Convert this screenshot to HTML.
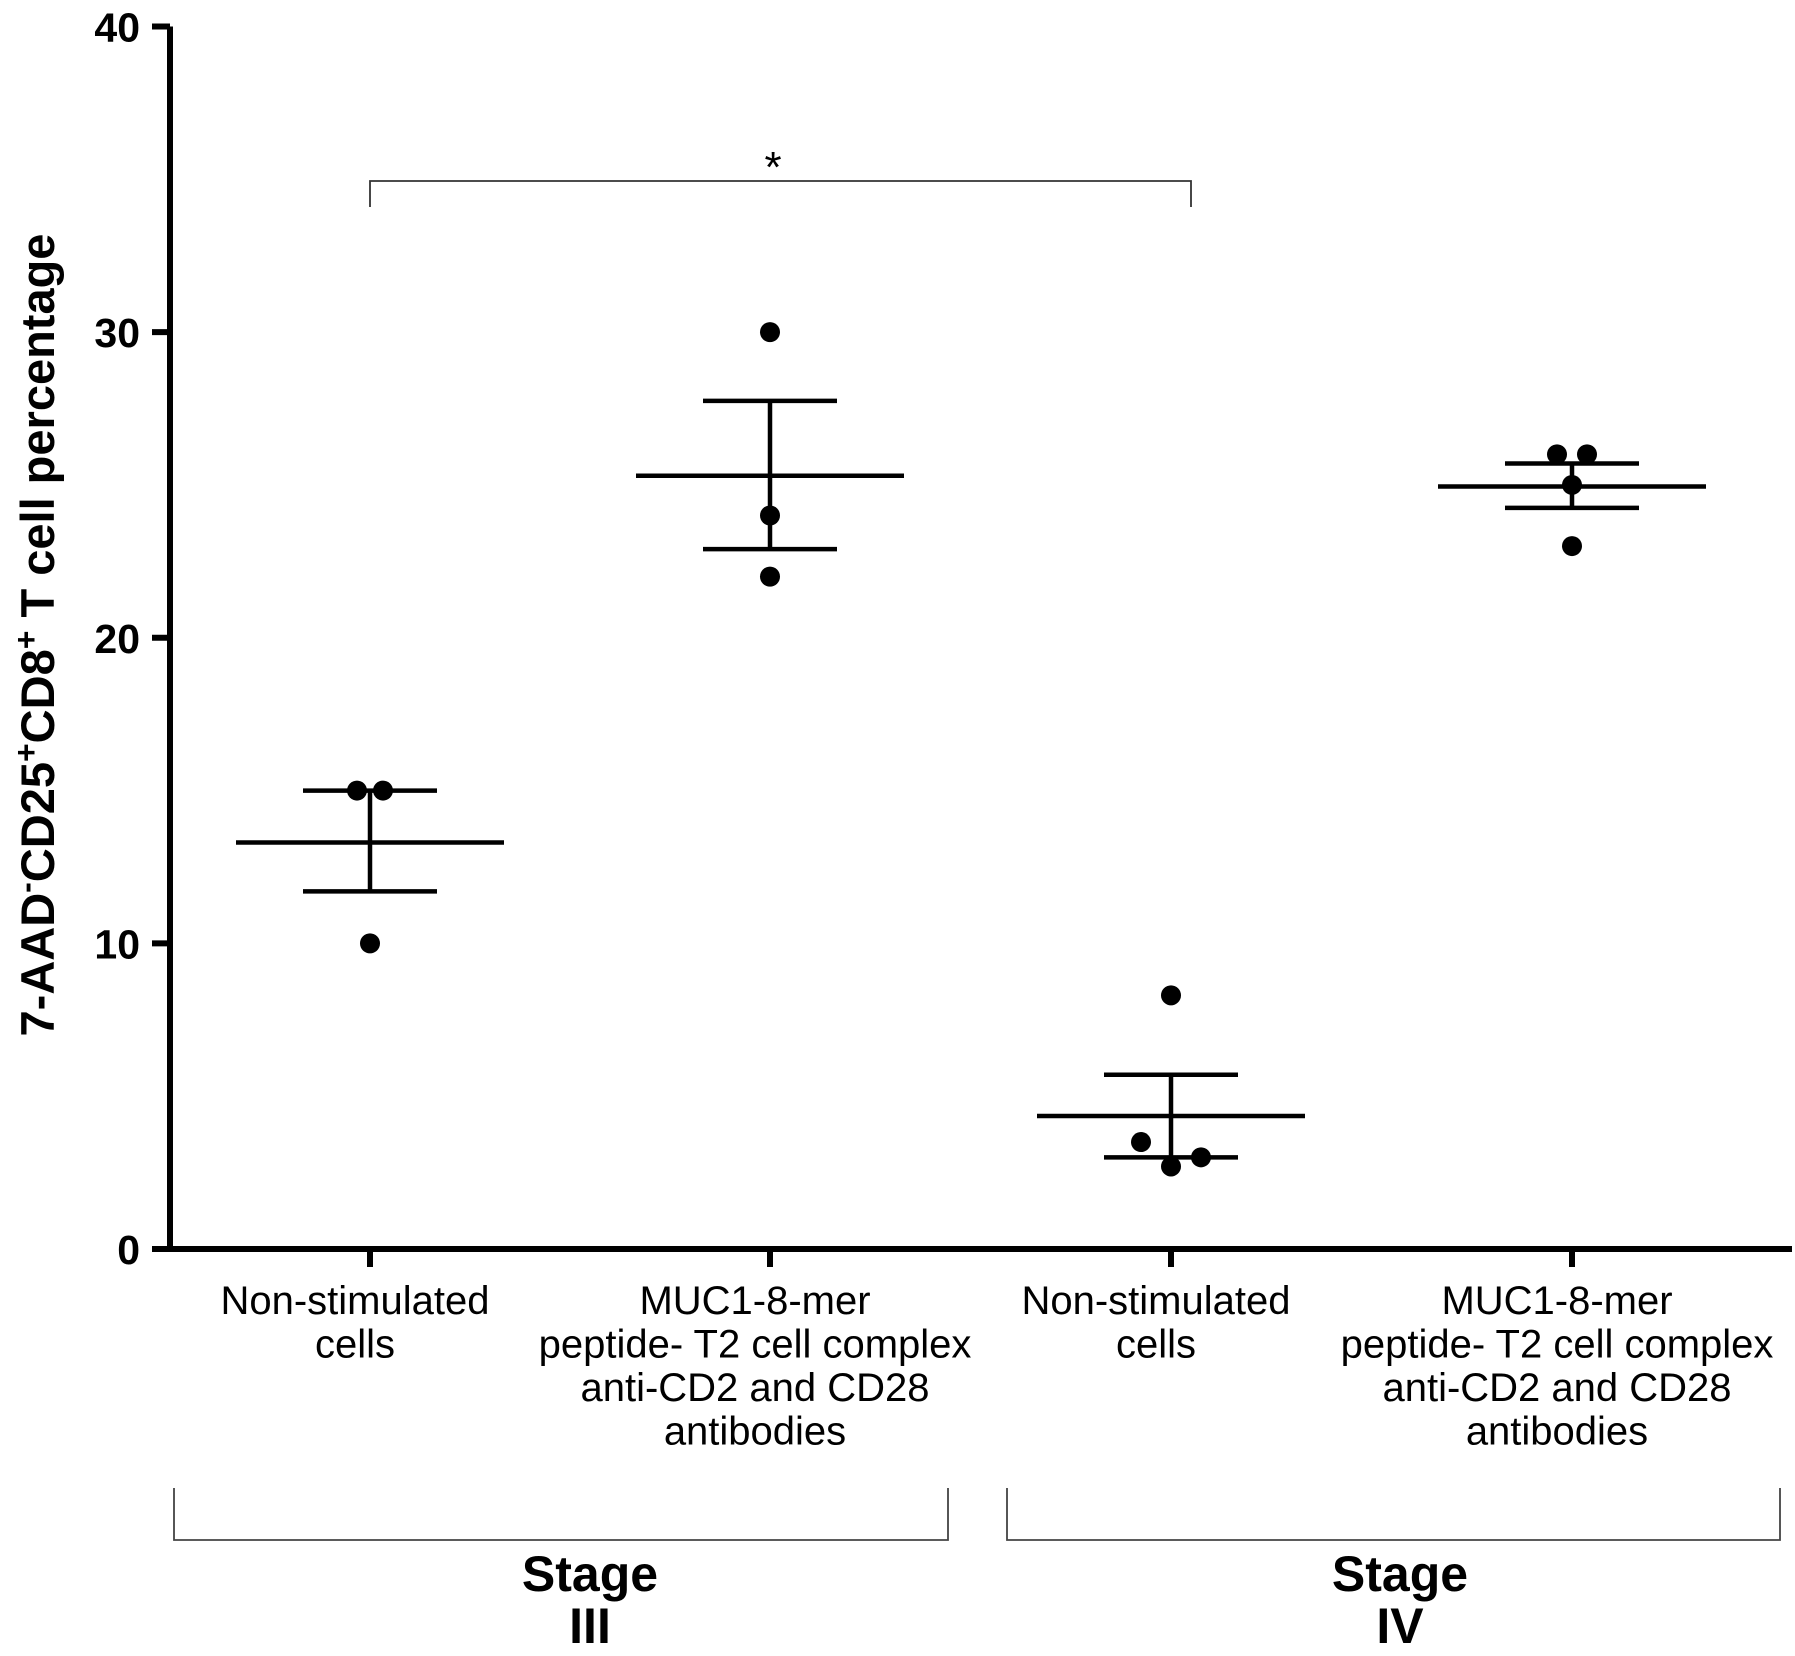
<!DOCTYPE html>
<html><head><meta charset="utf-8"><style>
body{margin:0;background:#fff}
svg{display:block;font-family:"Liberation Sans",Arial,sans-serif}
</style></head><body>
<svg id="chart" width="1795" height="1656" viewBox="0 0 1795 1656">
<g id="axes"></g><g id="marks"></g><g id="labels"></g>
</svg>
<script>
const categories=[["Non-stimulated","cells"],["MUC1-8-mer","peptide- T2 cell complex","anti-CD2 and CD28","antibodies"],["Non-stimulated","cells"],["MUC1-8-mer","peptide- T2 cell complex","anti-CD2 and CD28","antibodies"]];
const points=[[15,15,10],[30,24,22],[8.3,3.5,2.7,3.0],[26,26,25,23]];
const pointOffsets=[[-13,13,0],[0,0,0],[0,-30,0,30],[-15,15,0,0]];
const means=[13.3,25.3,4.35,24.95];
const seUpper=[15.0,27.75,5.7,25.7];
const seLower=[11.7,22.9,3.0,24.25];
const yTicks=[0,10,20,30,40];
const stages=[["Stage","III"],["Stage","IV"]];
const NS="http://www.w3.org/2000/svg";
const x0=170,y0=1249,yTop=26.5,xRight=1792;
const catX=[370,770,1171,1572];
function y(v){return y0-(v/40)*(y0-yTop);}
function x(i){return catX[i];}
function mk(par,tag,at){const e=document.createElementNS(NS,tag);for(const k in at)e.setAttribute(k,at[k]);document.getElementById(par).appendChild(e);return e;}
let e;
e=mk("axes","line",{x1:x0,y1:yTop,x2:x0,y2:y0+3,stroke:"#000","stroke-width":6});


e=mk("axes","line",{x1:x0-3,y1:y0,x2:xRight,y2:y0,stroke:"#000","stroke-width":6});


yTicks.forEach(t=>{
 e=mk("axes","line",{x1:x0-18,y1:y(t),x2:x0,y2:y(t),stroke:"#000","stroke-width":6});
 
 
 e=mk("axes","text",{x:140,y:y(t)+15,"text-anchor":"end","font-size":41,"font-weight":"bold"});
 e.textContent=t;
 
 
});
categories.forEach((c,i)=>{
 e=mk("axes","line",{x1:x(i),y1:y0,x2:x(i),y2:y0+18,stroke:"#000","stroke-width":6});
 
 
 c.forEach((s,j)=>{
  e=mk("labels","text",{x:x(i)-15,y:1314+j*43.5,"text-anchor":"middle","font-size":40});
  e.textContent=s;
  
  
 });
 e=mk("marks","line",{x1:x(i)-134,y1:y(means[i]),x2:x(i)+134,y2:y(means[i]),stroke:"#000","stroke-width":4.5});
 
 
 e=mk("marks","line",{x1:x(i),y1:y(seUpper[i]),x2:x(i),y2:y(seLower[i]),stroke:"#000","stroke-width":4.5});
 
 
 [seUpper[i],seLower[i]].forEach(v=>{
  e=mk("marks","line",{x1:x(i)-67,y1:y(v),x2:x(i)+67,y2:y(v),stroke:"#000","stroke-width":4.5});
  
  
 });
 points[i].forEach((v,j)=>{
  e=mk("marks","circle",{cx:x(i)+pointOffsets[i][j],cy:y(v),r:10,fill:"#000"});
  
  
 });
});
e=mk("labels","path",{d:`M${x(0)} 207 V181 H1191 V207`,fill:"none",stroke:"#333","stroke-width":1.8});


e=mk("labels","text",{x:773,y:182,"text-anchor":"middle","font-size":44});
e.textContent="*";


const br=[[174,948],[1007,1780]];
const stageX=[590,1400];
br.forEach((b,i)=>{
 e=mk("labels","path",{d:`M${b[0]} 1488 V1540 H${b[1]} V1488`,fill:"none",stroke:"#444","stroke-width":1.8});
 
 
 stages[i].forEach((s,j)=>{
  e=mk("labels","text",{x:stageX[i],y:1591+j*52,"text-anchor":"middle","font-size":50,"font-weight":"bold"});
  e.textContent=s;
  
  
 });
});
e=mk("labels","text",{x:0,y:0,"text-anchor":"middle","font-size":47,"font-weight":"bold",transform:"translate(54,635) rotate(-90)"});
e.innerHTML='7-AAD<tspan dy="-17" font-size="32">-</tspan><tspan dy="17">CD25</tspan><tspan dy="-17" font-size="32">+</tspan><tspan dy="17">CD8</tspan><tspan dy="-17" font-size="32">+</tspan><tspan dy="17"> T cell percentage</tspan>';


</script>
</body></html>
